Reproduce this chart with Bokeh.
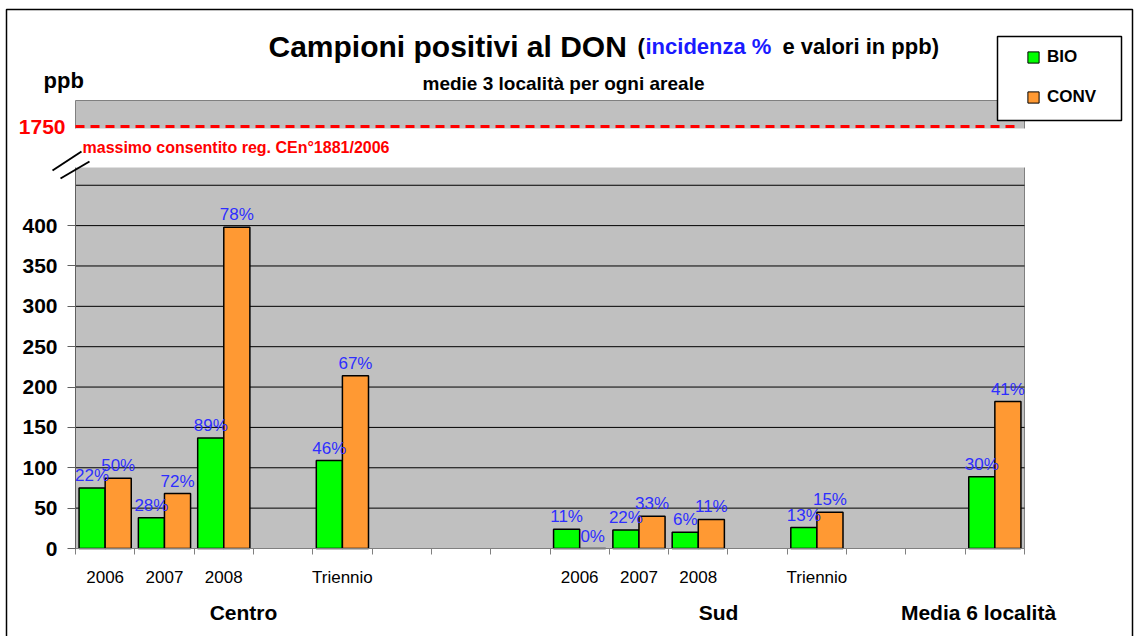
from bokeh.plotting import figure
from bokeh.models import (FixedTicker, Label, Legend, LegendItem, BoxAnnotation,
                          Arrow, ColumnDataSource, Range1d)
from bokeh.core.properties import value
from bokeh.transform import dodge
from bokeh.embed import file_html
from bokeh.resources import INLINE

# ---------------- data ----------------
slots = [0, 1, 2, 4, 8, 9, 10, 12, 15]          # category slot of each pair of bars
tick_labels = ["2006", "2007", "2008", "Triennio", "2006", "2007", "2008", "Triennio", ""]
bio_ppb = [75, 38, 137, 109, 24, 23, 20, 26, 89]
conv_ppb = [87, 68, 398, 214, 0, 40, 36, 45, 182]
bio_pct = [22, 28, 89, 46, 11, 22, 6, 13, 30]
conv_pct = [50, 72, 78, 67, 0, 33, 11, 15, 41]
y_ticks = [0, 50, 100, 150, 200, 250, 300, 350, 400]
grid_ticks = [50, 100, 150, 200, 250, 300, 350, 400, 450]
limit_value = "1750"
limit_text = "massimo consentito reg. CEn°1881/2006"
group_labels = ["Centro", "Sud", "Media 6 località"]
series_names = ["BIO", "CONV"]

# ---------------- styles / layout ----------------
FONT = "Liberation Sans"
GREEN = "#00FF00"
ORANGE = "#FF9933"
BLUE = "#2E2EFF"
RED = "#FF0000"
GRAY = "#C0C0C0"
EDGE = "#808080"
W, H = 1135, 636
N_SLOTS = 16
Y_TOP = 555
FRAME_L, FRAME_R, FRAME_T, FRAME_B = 75, 1024, 100, 548
PXU = (FRAME_B - FRAME_T) / Y_TOP
SLOT_W = (FRAME_R - FRAME_L) / N_SLOTS
X0, X1 = -0.5, N_SLOTS - 0.5


def xd(px):
    return (px - FRAME_L) / SLOT_W - 0.5


def yd(py):
    return (FRAME_B - py) / PXU


LIMIT_POS = yd(126)          # where the broken axis shows the 1750 limit

p = figure(width=W, height=H, output_backend="svg", toolbar_location=None,
           x_range=Range1d(xd(0), xd(W)), y_range=Range1d(yd(H), yd(0)),
           min_border=0)
p.background_fill_color = "white"
p.border_fill_color = "white"
p.outline_line_color = None
p.xgrid.visible = False
p.ygrid.visible = False

# plot area
p.add_layout(BoxAnnotation(left=X0, right=X1, bottom=0, top=Y_TOP, fill_color=GRAY,
                           fill_alpha=1, line_color=EDGE, line_alpha=1, line_width=1,
                           level="underlay"))
p.segment(x0=X0, x1=X1, y0=grid_ticks, y1=grid_ticks, line_color="black", line_width=1)

src = ColumnDataSource(dict(
    x=slots, bio=bio_ppb, conv=conv_ppb,
    bio_t=[f"{v}%" for v in bio_pct], conv_t=[f"{v}%" for v in conv_pct]))

# bars
p.vbar(x=dodge("x", -0.22, range=p.x_range), top="bio", width=0.44, source=src,
       fill_color=GREEN, line_color="black", line_width=1.5)
p.vbar(x=dodge("x", 0.22, range=p.x_range), top="conv", width=0.44, source=src,
       fill_color=ORANGE, line_color="black", line_width=1.5)

for col, off in (("bio_t", -0.22), ("conv_t", 0.22)):
    p.text(x=dodge("x", off, range=p.x_range), y=col.replace("_t", ""), text=col,
           source=src, text_font=value(FONT), text_font_size="17px",
           text_color=BLUE, text_align="center", text_baseline="bottom", y_offset=-3)

# axes (drawn at the edges of the plot area)
xa = p.xaxis[0]
xa.fixed_location = 0
xa.bounds = (X0, X1)
xa.ticker = FixedTicker(ticks=slots[:8], minor_ticks=[i - 0.5 for i in range(N_SLOTS + 1)])
xa.major_label_overrides = {s: t for s, t in zip(slots, tick_labels)}
xa.major_tick_line_color = None
xa.minor_tick_line_color = EDGE
xa.minor_tick_out = 6
xa.minor_tick_in = 0
xa.axis_line_color = EDGE
xa.major_label_text_font = FONT
xa.major_label_text_font_size = "17px"
xa.major_label_text_color = "black"
xa.major_label_standoff = 13

ya = p.yaxis[0]
ya.fixed_location = X0
ya.bounds = (0, yd(167))
ya.ticker = FixedTicker(ticks=y_ticks)
ya.minor_tick_line_color = None
ya.major_tick_out = 8
ya.major_tick_in = 0
ya.major_tick_line_color = "#606060"
ya.axis_line_color = "#606060"
ya.major_label_text_font = FONT
ya.major_label_text_font_size = "21px"
ya.major_label_text_font_style = "bold"
ya.major_label_text_color = "black"
ya.major_label_standoff = 10

# axis break: limit line, white band and labels
p.line(x=[X0, xd(1018)], y=[LIMIT_POS, LIMIT_POS], line_color=RED, line_width=3,
       line_dash="9 6")
p.add_layout(BoxAnnotation(bottom=yd(167), top=yd(128), left=xd(73), right=xd(1027),
                           fill_color="white", fill_alpha=1, line_color=None))
p.add_layout(Label(x=xd(65), y=LIMIT_POS, text=limit_value, text_align="right",
                   text_baseline="middle", text_font=FONT, text_font_size="21px",
                   text_font_style="bold", text_color=RED))
p.add_layout(Label(x=xd(82), y=yd(147), text=limit_text, text_align="left",
                   text_baseline="alphabetic", text_font=FONT, text_font_size="16px",
                   text_font_style="bold", text_color=RED))
for (a, b, c, d) in ((52, 170, 81, 151), (60, 178, 89, 161)):
    p.add_layout(Arrow(x_start=xd(a), y_start=yd(b), x_end=xd(c), y_end=yd(d),
                       start=None, end=None, line_color="black", line_width=2))


# titles and group labels
def lab(x, y, text, size, color="black", align="left", baseline="alphabetic", style="bold"):
    p.add_layout(Label(x=xd(x), y=yd(y), text=text, text_align=align,
                       text_baseline=baseline, text_font=FONT, text_font_size=size,
                       text_font_style=style, text_color=color))


lab(268, 46, "Campioni positivi al DON", "30px")
lab(637, 46, "(", "22px")
lab(645, 46, "incidenza %", "22px", color="#1A1AFF")
lab(782, 46, "e valori in ppb)", "22px")
lab(563, 83, "medie 3 località per ogni areale", "19px", align="center")
lab(43, 80, "ppb", "22px")
for name, px in zip(group_labels, (243, 718, 978)):
    lab(px, 612, name, "21px", align="center", baseline="middle")

# outer border
p.add_layout(BoxAnnotation(left=xd(6), right=xd(1132), top=yd(9), bottom=yd(H + 20),
                           fill_color=None, fill_alpha=0, line_color="black",
                           line_alpha=1, line_width=1.5))

# legend (box + items)
p.add_layout(BoxAnnotation(left=xd(997), right=xd(1121), top=yd(36), bottom=yd(120),
                           fill_color="white", fill_alpha=1, line_color="black",
                           line_alpha=1, line_width=1.5))
nan = float("nan")
bio_r = p.scatter(x=[nan], y=[nan], marker="square", size=11, fill_color=GREEN,
                  line_color="black")
conv_r = p.scatter(x=[nan], y=[nan], marker="square", size=11, fill_color=ORANGE,
                   line_color="black")
legend = Legend(items=[LegendItem(label=series_names[0], renderers=[bio_r]),
                       LegendItem(label=series_names[1], renderers=[conv_r])],
                location=(1019, H - 111), margin=0, padding=0, spacing=12,
                glyph_width=28, glyph_height=28, label_standoff=0, label_width=50,
                label_height=28, label_text_font=FONT, label_text_font_size="17px",
                label_text_font_style="bold", label_text_color="black",
                border_line_color=None,
                background_fill_color=None, background_fill_alpha=0)
p.add_layout(legend)

open("out.html", "w").write(file_html(p, INLINE))
